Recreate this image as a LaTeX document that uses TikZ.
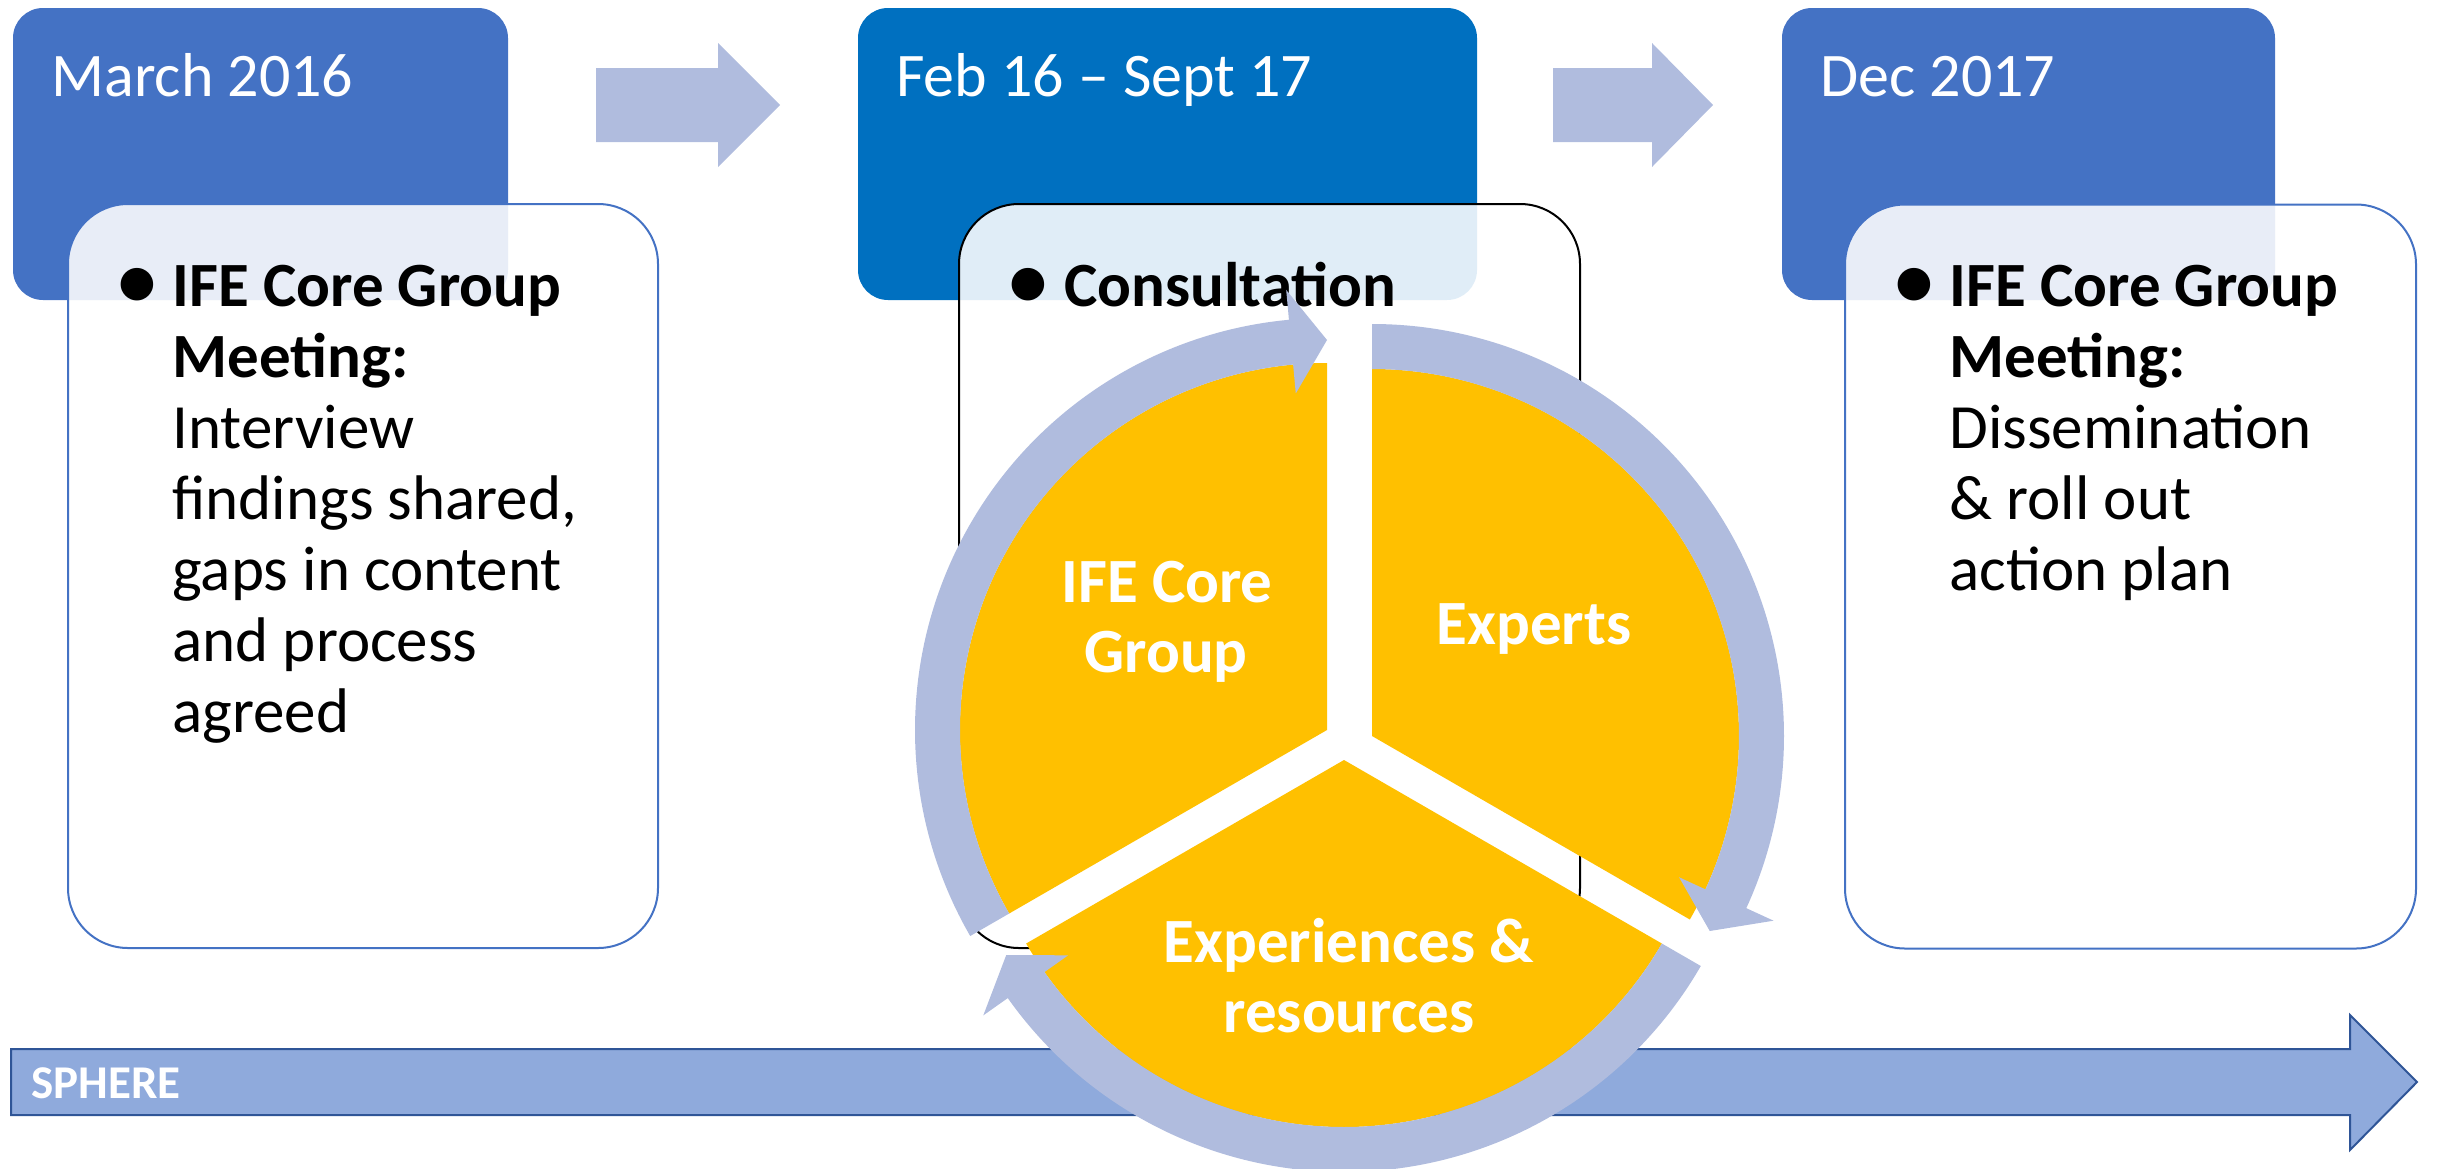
\documentclass[tikz,border=0pt]{standalone}
\usepackage{fontspec}
\setmainfont{Carlito}
\definecolor{hdrblue}{HTML}{4472C4}
\definecolor{hdrdark}{HTML}{0070C0}
\definecolor{ringblue}{RGB}{176,188,222}
\definecolor{pieyellow}{HTML}{FFC000}
\definecolor{spherefill}{HTML}{8FAADC}
\definecolor{sphereline}{HTML}{2F5597}
\begin{document}
\begin{tikzpicture}[x=0.5pt,y=-0.5pt,
  hdrbox/.style={rectangle, rounded corners=15pt, inner sep=0pt, outer sep=0pt, minimum height=146pt},
  bodybox/.style={rectangle, rounded corners=30pt, inner sep=0pt, outer sep=0pt, minimum height=372pt, fill=white, fill opacity=0.88, line width=1pt},
  hdrtext/.style={anchor=base west, inner sep=0pt, text=white, font=\fontsize{31}{37}\selectfont},
  bodytext/.style={anchor=base west, inner sep=0pt, font=\fontsize{31.5}{37}\selectfont},
  bodybold/.style={anchor=base west, inner sep=0pt, font=\fontsize{31.5}{37}\selectfont\bfseries},
  bulletmark/.style={anchor=center, inner sep=0pt, font=\fontsize{46}{50}\selectfont},
  pietext/.style={anchor=base, inner sep=0pt, text=white, font=\fontsize{31.5}{37}\selectfont\bfseries},
  ringarrow/.style={fill=ringblue},
  piepart/.style={fill=pieyellow},
  blockarrow/.style={fill=ringblue}
]
\useasboundingbox (0,0) rectangle (2437,1168);

% headers
\node[hdrbox, fill=hdrblue, minimum width=247.5pt] (h1) at (260.5,154) {};
\node[hdrbox, fill=hdrdark, minimum width=309.5pt] (h2) at (1167.5,154) {};
\node[hdrbox, fill=hdrblue, minimum width=246.5pt] (h3) at (2028.5,154) {};
\node[hdrtext] (h1t) at (51,96) {March 2016};
\node[hdrtext] (h2t) at (896,96) {Feb 16 – Sept 17};
\node[hdrtext] (h3t) at (1820,96) {Dec 2017};

% block arrows between headers
\fill[blockarrow] (596,68) -- (718,68) -- (718,43) -- (780,105) -- (718,167) -- (718,142) -- (596,142) -- cycle;
\fill[blockarrow] (1553,68) -- (1652,68) -- (1652,43) -- (1713,105) -- (1652,167) -- (1652,142) -- (1553,142) -- cycle;

% bodies
\node[bodybox, draw=hdrblue, minimum width=295pt] (b1) at (363,576) {};
\node[bodybox, draw=black, minimum width=310.5pt] (b2) at (1269.5,576) {};
\node[bodybox, draw=hdrblue, minimum width=285.5pt] (b3) at (2130.5,576.5) {};

% body 1 text
\node[bulletmark] (b1bul) at (137,289) {•};
\node[bodybold] (b1l1) at (172,306) {IFE Core Group};
\node[bodybold] (b1l2) at (172,377) {Meeting:};
\node[bodytext] (b1l3) at (172,448) {Interview};
\node[bodytext] (b1l4) at (172,519) {findings shared,};
\node[bodytext] (b1l5) at (172,590) {gaps in content};
\node[bodytext] (b1l6) at (172,661) {and process};
\node[bodytext] (b1l7) at (172,732) {agreed};

% body 2 text
\node[bulletmark] (b2bul) at (1028,289) {•};
\node[bodybold] (b2l1) at (1064,306) {Consultation};

% body 3 text
\node[bulletmark] (b3bul) at (1914,289) {•};
\node[bodybold] (b3l1) at (1949,306) {IFE Core Group};
\node[bodybold] (b3l2) at (1949,377) {Meeting:};
\node[bodytext] (b3l3) at (1949,448) {Dissemination};
\node[bodytext] (b3l4) at (1949,519) {\& roll out};
\node[bodytext] (b3l5) at (1949,590) {action plan};

% SPHERE arrow
\draw[fill=spherefill, draw=sphereline, line width=1pt] (11,1049) -- (2350,1049) -- (2350,1015) -- (2417,1082) -- (2350,1150) -- (2350,1115) -- (11,1115) -- cycle;
\node[anchor=base west, inner sep=0pt, text=white, font=\fontsize{23.5}{28}\selectfont\bfseries] (sph) at (31,1098) {SPHERE};

% pie sectors
\begin{scope}[shift={(1327,730)}]
  \fill[piepart] (0,0) -- (150:367) arc[start angle=150, end angle=270, radius=367] -- cycle;
\end{scope}
\begin{scope}[shift={(1372,736)}]
  \fill[piepart] (0,0) -- (270:367) arc[start angle=270, end angle=390, radius=367] -- cycle;
\end{scope}
\begin{scope}[shift={(1344,760)}]
  \fill[piepart] (0,0) -- (30:367) arc[start angle=30, end angle=150, radius=367] -- cycle;
\end{scope}

% ring arrows
\begin{scope}[shift={(1327,730)}]
  \fill[ringarrow] (150:412) arc[start angle=150, end angle=264.7, radius=412] -- (264.7:442) -- (270:390) -- (264.7:338) -- (264.7:367) arc[start angle=264.7, end angle=150, radius=367] -- cycle;
\end{scope}
\begin{scope}[shift={(1372,736)}]
  \fill[ringarrow] (270:412) arc[start angle=270, end angle=384.7, radius=412] -- (384.7:442) -- (390:390) -- (384.7:338) -- (384.7:367) arc[start angle=384.7, end angle=270, radius=367] -- cycle;
\end{scope}
\begin{scope}[shift={(1344,760)}]
  \fill[ringarrow] (30:412) arc[start angle=30, end angle=144.7, radius=412] -- (144.7:442) -- (150:390) -- (144.7:338) -- (144.7:367) arc[start angle=144.7, end angle=30, radius=367] -- cycle;
\end{scope}

% pie texts
\node[pietext] (p1a) at (1167,602) {IFE Core};
\node[pietext] (p1b) at (1166,672) {Group};
\node[pietext] (p2) at (1534,644) {Experts};
\node[pietext] (p3a) at (1349,962) {Experiences \&};
\node[pietext] (p3b) at (1349,1032) {resources};
\end{tikzpicture}
\end{document}
